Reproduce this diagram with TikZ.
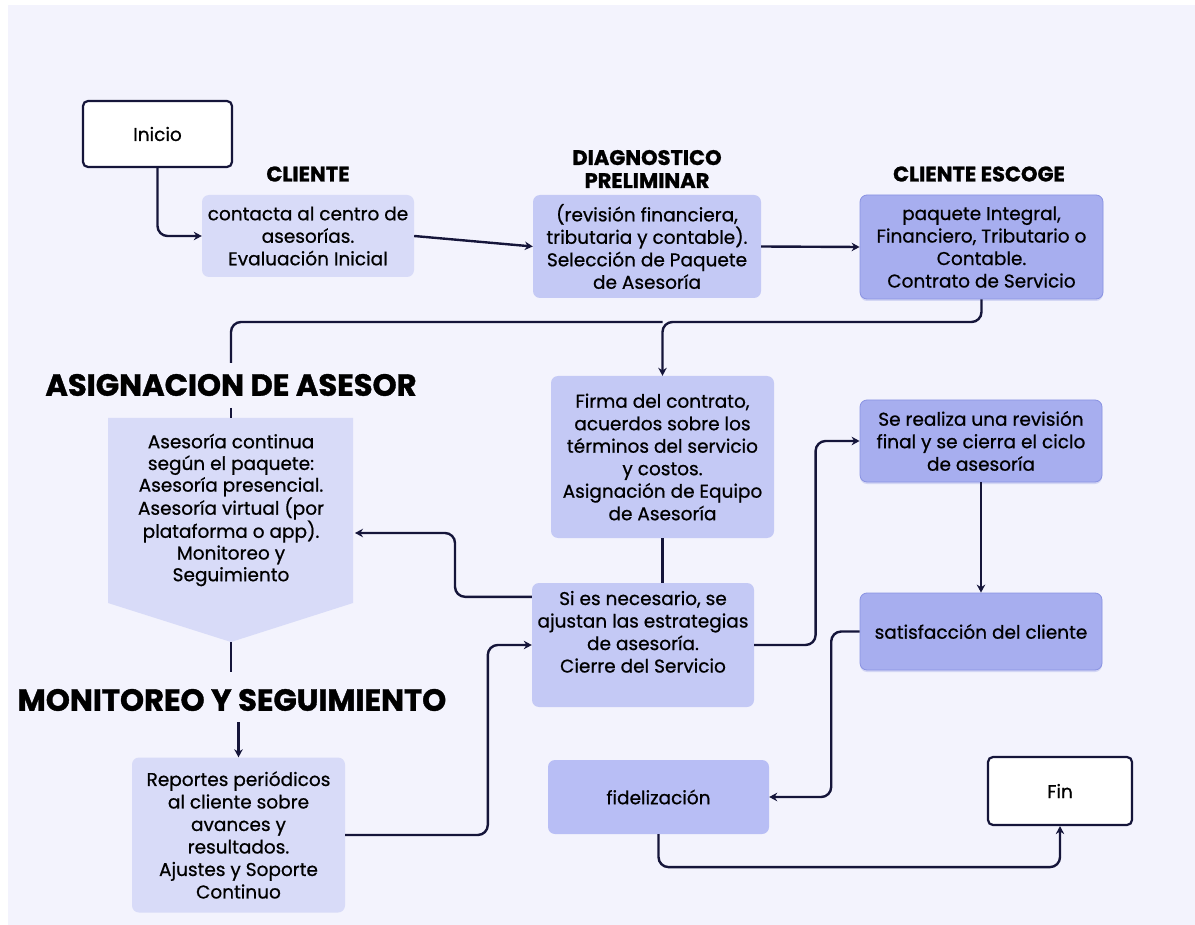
\documentclass[tikz,border=0pt]{standalone}
\usepackage{fontspec}
\setmainfont{Poppins}[RawFeature={embolden=0.7}]
\newfontfamily\heavyfont{Poppins}[UprightFont=* Bold, RawFeature={embolden=1.2}]
\usetikzlibrary{arrows.meta,calc,shadows}
\definecolor{bg}{HTML}{F3F3FD}
\definecolor{lightA}{HTML}{D8DBF8}
\definecolor{medB}{HTML}{C4C9F5}
\definecolor{darkC}{HTML}{A7AEEF}
\definecolor{darkCb}{HTML}{8A93E2}
\definecolor{fidC}{HTML}{B8BEF5}
\definecolor{ink}{HTML}{15153A}
\tikzset{
  box/.style={rounded corners=7pt, align=center, text=black, inner sep=2pt,
    font=\fontsize{18.5}{22.5}\selectfont},
  lbox/.style={box, fill=lightA},
  mbox/.style={box, fill=medB},
  dbox/.style={box, fill=darkC, draw=darkCb, line width=0.8pt,
    drop shadow={shadow xshift=0pt, shadow yshift=-2pt, opacity=0.3, fill=darkCb}},
  fbox/.style={box, fill=fidC},
  term/.style={box, fill=white, draw=ink, line width=2.2pt, rounded corners=5pt},
  txt/.style={align=center, text=black, font=\fontsize{18.5}{21.7}\selectfont},
  lab/.style={align=center, text=black, font=\fontsize{21}{23}\selectfont\heavyfont},
  biglab/.style={text=black, font=\fontsize{30.6}{34}\selectfont\heavyfont},
  conn/.style={draw=ink, line width=2.4pt, rounded corners=10pt},
  arr/.style={conn, -{Stealth[length=8pt,width=8.5pt]}}
}
\begin{document}
\begin{tikzpicture}[x=1pt,y=-1pt]
\fill[white] (0,0) rectangle (1195,925);
\fill[bg] (8,5) rectangle (1195,925);
\useasboundingbox (0,0) rectangle (1195,925);

% terminals
\node[term, minimum width=149pt, minimum height=66pt] (inicio) at (157.5,134) {Inicio};
\node[term, minimum width=144pt, minimum height=68pt] (fin) at (1060,791) {Fin};

% labels
\node[lab] (lcliente) at (308,174) {CLIENTE};
\node[lab] (ldiag) at (647,169) {DIAGNOSTICO\\PRELIMINAR};
\node[lab] (lescoge) at (979,174) {CLIENTE ESCOGE};
\node[biglab] (lasig) at (231,385) {ASIGNACION DE ASESOR};
\node[biglab] (lmon) at (232,700) {MONITOREO Y SEGUIMIENTO};

% boxes
\node[lbox, minimum width=212pt, minimum height=82pt] (cliente) at (308,236)
  {contacta al centro de\\asesorías.\\Evaluación Inicial};
\node[mbox, minimum width=228pt, minimum height=103pt] (diag) at (647,246.5)
  {(revisión financiera,\\tributaria y contable).\\Selección de Paquete\\de Asesoría};
\node[dbox, minimum width=243pt, minimum height=104pt] (escoge) at (981.5,247)
  {paquete Integral,\\Financiero, Tributario o\\Contable.\\Contrato de Servicio};
\node[mbox, minimum width=223pt, minimum height=162pt] (firma) at (662.5,457)
  {Firma del contrato,\\acuerdos sobre los\\términos del servicio\\y costos.\\Asignación de Equipo\\de Asesoría};
\node[mbox, minimum width=222pt, minimum height=124pt] (si) at (643,645)
  {Si es necesario, se\\ajustan las estrategias\\de asesoría.\\Cierre del Servicio\\[4pt]};
\node[dbox, minimum width=242pt, minimum height=82pt] (revision) at (981,441)
  {Se realiza una revisión\\final y se cierra el ciclo\\de asesoría};
\node[dbox, minimum width=242pt, minimum height=77pt] (satis) at (981,631.5)
  {satisfacción del cliente};
\node[fbox, minimum width=221pt, minimum height=74pt] (fidel) at (658.5,797)
  {fidelización};
\node[lbox, minimum width=213pt, minimum height=155pt] (reportes) at (238.5,835)
  {Reportes periódicos\\al cliente sobre\\avances y\\resultados.\\Ajustes y Soporte\\Continuo};

% pentagon
\fill[lightA] (108,418) -- (353,418) -- (353,603) -- (231,642) -- (108,603) -- cycle;
\node[txt] (pent) at (231,510)
  {Asesoría continua\\según el paquete:\\Asesoría presencial.\\Asesoría virtual (por\\plataforma o app).\\Monitoreo y\\Seguimiento};
\coordinate (ptop) at (231,418);
\coordinate (pbot) at (231,642);
\coordinate (pright) at (355,533);

% junction coordinates
\coordinate (j1) at (662.5,322);
\coordinate (a1) at (231,363);
\coordinate (t1) at (231,408);
\coordinate (m1) at (231,672);
\coordinate (m2) at (238.5,722);
\coordinate (sifrom) at ($(si.north west)+(0,14)$);

% connectors
\draw[arr] (inicio.south) |- (cliente.west);
\draw[arr] (cliente.east) -- (diag.west);
\draw[arr] (diag.east) -- (escoge.west);
\draw[arr] (escoge.south) |- (j1) -- (firma.north);
\draw[conn] (j1) -| (a1);
\draw[conn] (t1) -- (ptop);
\draw[conn] (pbot) -- (m1);
\draw[arr] (m2) -- (reportes.north);
\draw[arr] (reportes.east) -| ($(si.west)+(-44,0)$) -- (si.west);
\draw[arr] (sifrom) -| ($(pright)+(100,0)$) -- (pright);
\draw[conn] (firma.south) -- (firma.south |- si.north);
\draw[arr] (si.east) -| ($(revision.west)+(-44,0)$) -- (revision.west);
\draw[arr] (revision.south) -- (satis.north);
\draw[arr] (satis.west) -| ($(fidel.east)+(62,0)$) -- (fidel.east);
\draw[arr] (fidel.south) |- ($(fin.south)+(0,41)$) -- (fin.south);
\end{tikzpicture}
\end{document}
